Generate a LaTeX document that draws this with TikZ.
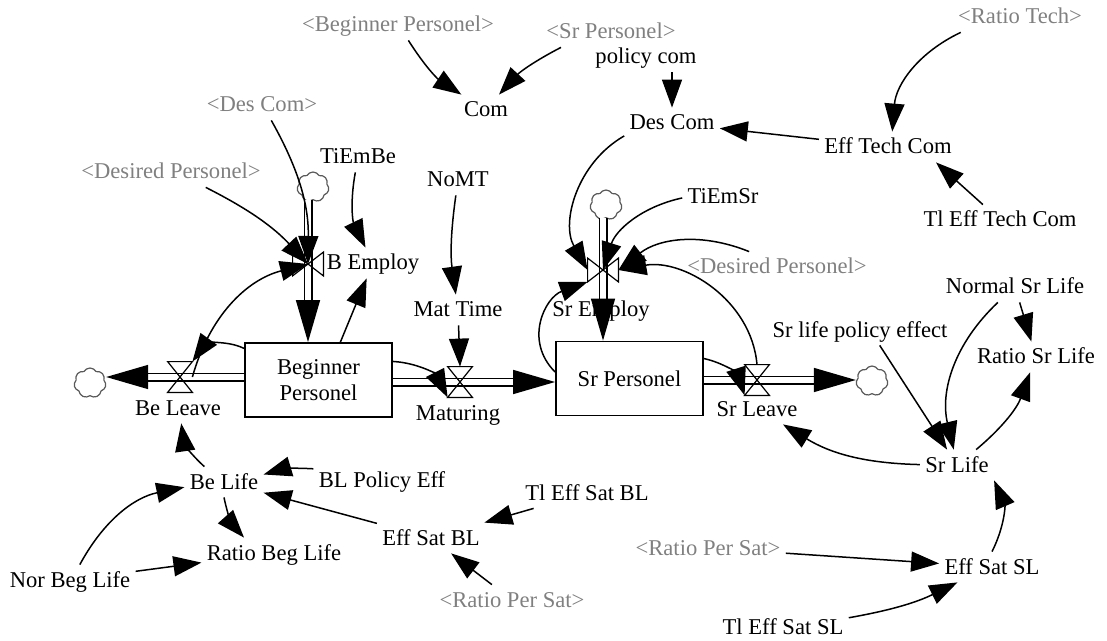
\documentclass[tikz,border=0pt]{standalone}
\usepackage{fontspec}
\setmainfont{Liberation Serif}
\usepackage{tikz}
\usetikzlibrary{arrows.meta,positioning,shapes.symbols}
\definecolor{ghostgray}{HTML}{808080}
\newcommand{\vfont}{\fontsize{11.3}{13}\selectfont}

\begin{document}
\begin{tikzpicture}[
  x=0.5pt, y=0.5pt,
  var/.style  ={font=\vfont, inner sep=2.5pt, text height=8.5pt, text depth=1.5pt},
  ghost/.style={var, text=ghostgray},
  stock/.style={draw, line width=0.9pt, minimum width=73.5pt, minimum height=37pt, align=center, font=\vfont},
  hvalve/.style={inner sep=0pt, minimum width=12pt, minimum height=15pt},
  vvalve/.style={inner sep=0pt, minimum width=15pt, minimum height=11.5pt},
  valveline/.style={line width=0.6pt},
  src/.style  ={cloud, cloud puffs=7, cloud puff arc=120, aspect=1.1, draw=black!65, line width=0.6pt, minimum width=16pt, minimum height=15pt, inner sep=0pt},
  arr/.style  ={-{Triangle[length=14pt, width=10pt]}, line width=0.75pt},
  pipe/.style ={double, double distance=3pt, line width=0.75pt, -{Triangle[length=21pt, width=12pt]}},
]
  \useasboundingbox (0,0) rectangle (1107,-641);

  % stocks
  \node[stock] (bp) at (318.5,-380)  {Beginner\\Personel};
  \node[stock] (sp) at (629.5,-378.5) {Sr Personel};

  % valves and clouds
  \node[hvalve] (vbl)  at (180,-377) {};
  \node[hvalve] (vmat) at (460,-382) {};
  \node[hvalve] (vsl)  at (757,-380) {};
  \node[vvalve] (vbe)  at (308,-264) {};
  \node[vvalve] (vse)  at (603,-270) {};
  \node[src] (cbl) at (90,-383)  {};
  \node[src] (csl) at (872,-381) {};
  \node[src] (cbe) at (313,-187) {};
  \node[src] (cse) at (606,-205) {};

  % flow names
  \node[var] (lbl)  at (178,-408) {Be Leave};
  \node[var] (lmat) at (458,-413) {Maturing};
  \node[var] (lsl)  at (757,-409) {Sr Leave};
  \node[var] (lbe)  at (373,-263) {B Employ};
  \node[var] (lse)  at (601,-310) {Sr Employ};

  % variables
  \node[var] (com)    at (486,-110)  {Com};
  \node[var] (pcom)   at (646,-57)   {policy com};
  \node[var] (dcom)   at (672,-123)  {Des Com};
  \node[var] (etc)    at (888,-147)  {Eff Tech Com};
  \node[var] (tletc)  at (1000,-220) {Tl Eff Tech Com};
  \node[var] (tiembe) at (358,-157)  {TiEmBe};
  \node[var] (nomt)   at (458,-180)  {NoMT};
  \node[var] (tiemsr) at (723,-197)  {TiEmSr};
  \node[var] (mtime)  at (458,-310)  {Mat Time};
  \node[var] (nsl)    at (1015,-287) {Normal Sr Life};
  \node[var] (slpe)   at (860,-330)  {Sr life policy effect};
  \node[var] (rsl)    at (1036,-357) {Ratio Sr Life};
  \node[var] (srlife) at (957,-465)  {Sr Life};
  \node[var] (essl)   at (992,-567)  {Eff Sat SL};
  \node[var] (tlessl) at (783,-627)  {Tl Eff Sat SL};
  \node[var] (belife) at (224,-482)  {Be Life};
  \node[var] (blpe)   at (382,-480)  {BL Policy Eff};
  \node[var] (esbl)   at (431,-538)  {Eff Sat BL};
  \node[var] (tlesbl) at (587,-493)  {Tl Eff Sat BL};
  \node[var] (rbl)    at (274,-553)  {Ratio Beg Life};
  \node[var] (nbl)    at (70,-580)   {Nor Beg Life};

  % shadow variables
  \node[ghost] (gbp)   at (398,-25)  {<Beginner Personel>};
  \node[ghost] (gsp)   at (611,-32)  {<Sr Personel>};
  \node[ghost] (grt)   at (1020,-17) {<Ratio Tech>};
  \node[ghost] (gdc)   at (262,-105) {<Des Com>};
  \node[ghost] (gdp1)  at (171,-172) {<Desired Personel>};
  \node[ghost] (gdp2)  at (777,-267) {<Desired Personel>};
  \node[ghost] (grps1) at (708,-548) {<Ratio Per Sat>};
  \node[ghost] (grps2) at (512,-600) {<Ratio Per Sat>};

  % pipes
  \draw[pipe] (bp.west |- vbl) -- (cbl.east |- vbl);
  \draw[pipe] (bp.east |- vmat) -- (sp.west |- vmat);
  \draw[pipe] (sp.east |- vsl) -- (csl.west |- vsl);
  \draw[pipe] (cbe.south -| vbe) -- (vbe |- bp.north);
  \draw[pipe] (cse.south -| vse) -- (vse |- sp.north);
  \foreach \v in {vbl,vmat,vsl}
    \draw[valveline] (\v.north west) -- (\v.north east) -- (\v.south west) -- (\v.south east) -- cycle;
  \foreach \v in {vbe,vse}
    \draw[valveline] (\v.north west) -- (\v.south west) -- (\v.north east) -- (\v.south east) -- cycle;

  % links, top
  \draw[arr] (gbp) to[bend right=12] (com);
  \draw[arr] ([xshift=-25pt]gsp.south) to[bend right=10] (com);
  \draw[arr] (pcom.south -| dcom) -- (dcom);
  \draw[arr] (grt) to[bend right=30] (etc);
  \draw[arr] (etc) -- (dcom);
  \draw[arr] (tletc) -- ([xshift=24pt]etc.south);

  % links, beginner side
  \draw[arr] (gdc) to[bend left=15] (vbe.center);
  \draw[arr] (gdp1) to[bend left=10] (vbe.center);
  \draw[arr] (tiembe) to[bend right=18] (lbe);
  \draw[arr] (bp.60) -- (lbe);
  \draw[arr] (vbl.east) to[bend left=30] (vbe.center);
  \draw[arr] (bp.157) to[bend right=40] (vbl.north east);
  \draw[arr] (bp.14) to[bend left=30] (vmat.south west);
  \draw[arr] (nomt) to[bend right=8] (mtime);
  \draw[arr] (mtime) -- (vmat.north);

  % links, senior side
  \draw[arr] (dcom) to[bend right=45] (vse.west);
  \draw[arr] (tiemsr) to[bend right=30] (vse.center);
  \draw[arr] (gdp2) to[bend right=30] (vse.east);
  \draw[arr] (vsl.north) to[out=95, in=10] (vse.east);
  \draw[arr] (sp.175) to[out=135, in=200, looseness=1.2] (vse.south west);
  \draw[arr] (sp.15) to[bend left=30] (vsl.south west);

  % links, senior life
  \draw[arr] (srlife) to[bend left=15] (lsl);
  \draw[arr] (nsl) to[bend right=30] (srlife);
  \draw[arr] (slpe.-38) -- (srlife);
  \draw[arr] (nsl) -- (rsl);
  \draw[arr] (srlife) to[bend right=15] (rsl);
  \draw[arr] (essl.north) to[bend right=25] (srlife.south east);
  \draw[arr] (grps1) -- (essl);
  \draw[arr] (tlessl) to[bend right=8] (essl);

  % links, beginner life
  \draw[arr] (belife) to[bend left=20] (lbl);
  \draw[arr] (blpe) to[bend right=10] (belife);
  \draw[arr] (esbl) -- (belife);
  \draw[arr] (belife.south) to[bend right=15] ([xshift=-15pt]rbl.north);
  \draw[arr] (nbl) to[bend left=25] (belife);
  \draw[arr] (nbl) -- (rbl);
  \draw[arr] (tlesbl) -- (esbl);
  \draw[arr] (grps2) -- (esbl);
\end{tikzpicture}
\end{document}
